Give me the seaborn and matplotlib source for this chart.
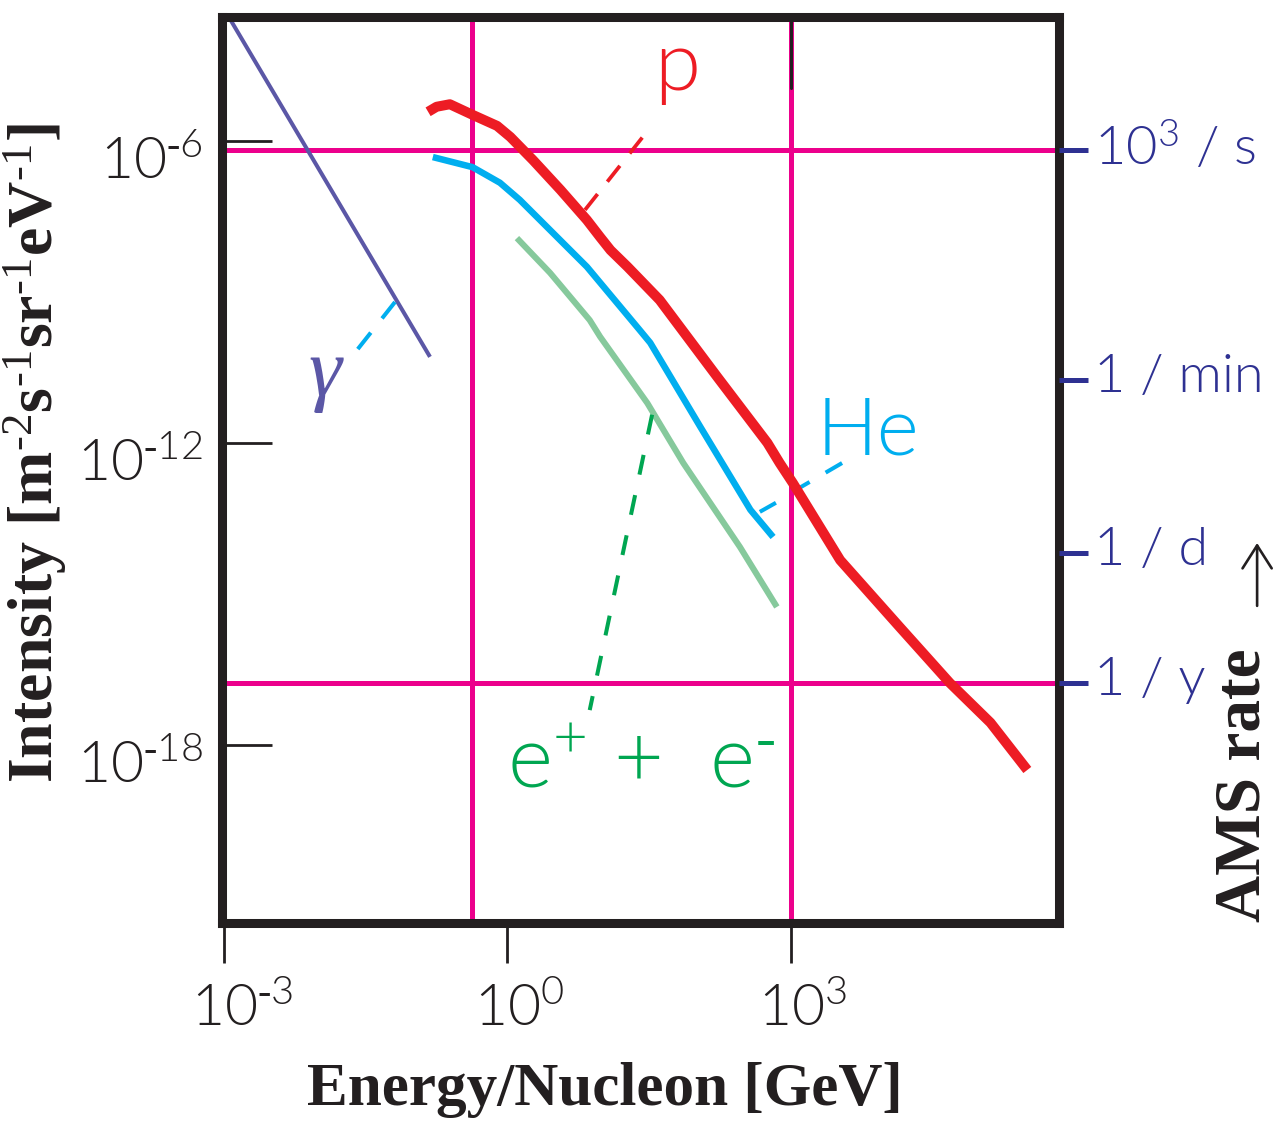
import numpy as np
import pandas as pd
import matplotlib
matplotlib.use("Agg")
import matplotlib.pyplot as plt
import matplotlib.transforms as mtransforms
from matplotlib import font_manager as fm
from matplotlib.font_manager import FontProperties
from matplotlib.ticker import NullLocator
import seaborn as sns

# ---------------- data (log10 values) ----------------
gamma_logE = [-2.96, -0.82]
gamma_logI = [-3.50, -10.29]

proton_logE = [-0.84, -0.75, -0.61, -0.37, -0.11, 0.03, 0.27, 0.56, 0.84, 0.98, 1.09,
               1.27, 1.61, 2.22, 2.75, 2.88, 3.02, 3.52, 4.15, 4.68, 5.11, 5.50]
proton_logI = [-5.42, -5.32, -5.27, -5.48, -5.70, -5.92, -6.38, -6.97, -7.57, -7.91, -8.17,
               -8.50, -9.16, -10.69, -12.00, -12.40, -12.80, -14.33, -15.66, -16.77, -17.56, -18.50]

helium_logE = [-0.79, -0.37, -0.08, 0.13, 0.84, 1.40, 1.51, 2.04, 2.57, 2.81]
helium_logI = [-6.32, -6.52, -6.83, -7.17, -8.50, -9.76, -10.01, -11.68, -13.33, -13.87]

electron_logE = [0.10, 0.45, 0.87, 0.98, 1.48, 1.86, 2.46, 2.85]
electron_logI = [-7.93, -8.62, -9.56, -9.89, -11.21, -12.40, -14.07, -15.26]

# pointer lines (label -> curve)
p_ptr_logE = [0.82, 1.49]
p_ptr_logI = [-7.37, -5.78]
he_ptr_logE = [3.02, 3.54]
he_ptr_logI = [-12.97, -12.40]
he_tick_logE = [2.67, 2.84]
he_tick_logI = [-13.37, -13.19]
gamma_ptr_logE = [-1.19, -1.59]
gamma_ptr_logI = [-9.20, -10.15]
e_ptr_logE = [1.53, 0.87]
e_ptr_logI = [-11.44, -17.31]

# curve labels: text, log10 E (centre), log10 I (baseline)
label_texts = ["p", "He", "\u03b3", r"$\mathregular{e^{+}}$ +  $\mathregular{e^{\text{-}}}$"]
label_logE = [1.79, 3.815, -1.93, 1.42]
label_logI = [-4.99, -12.24, -11.05, -18.84]
label_sizes = [60, 58, 60, 62]

# axes
x_tick_exps = [-3, 0, 3]
y_tick_exps = [-6, -12, -18]
xlim_log = [-3.02, 5.836]
ylim_log = [-21.54, -3.536]
grid_logE = [-0.376, 3.0]
grid_logI = [-6.18, -16.77]
rate_logI = [-6.18, -10.75, -14.19, -16.77]
rate_labels = [r"$\mathregular{10^{3}}$ / s", "1 / min", "1 / d", "1 / y"]
rate_is_grid = [True, False, False, True]

# ---------------- style ----------------
RED = "#ED1C24"
CYAN = "#00AEEF"
GREEN_L = "#86C99C"
GREEN_D = "#00A651"
PURPLE = "#5B57A6"
NAVY = "#2E3192"
MAGENTA = "#EC008C"
BLACK = "#231F20"

sns.set_theme(style="white")
plt.rcParams["font.family"] = ["Lato", "DejaVu Sans"]
plt.rcParams["mathtext.fontset"] = "custom"
plt.rcParams["mathtext.rm"] = "Liberation Serif"
plt.rcParams["mathtext.it"] = "Liberation Serif:italic"
plt.rcParams["mathtext.bf"] = "Liberation Serif:bold"


def _wnum(w):
    if isinstance(w, (int, float)):
        return w
    return fm.weight_dict.get(w, 400)


def find_light():
    for name in ["Lato", "Open Sans", "Roboto", "Noto Sans"]:
        cands = [f for f in fm.fontManager.ttflist if f.name == name and f.style == "normal"]
        for target in (300, 200):
            for f in cands:
                if _wnum(f.weight) == target:
                    return f.fname
    return None


LIGHT = find_light()


def lfp(size):
    if LIGHT:
        return FontProperties(fname=LIGHT, size=size)
    return FontProperties(family="Lato", size=size)


def sfp(size, weight="bold", style="normal"):
    return FontProperties(family=["Liberation Serif", "DejaVu Serif"], weight=weight,
                          style=style, size=size)


def sup(e):
    s = str(e)
    if s.startswith("-"):
        s = r"\text{-}" + s[1:]
    return r"$\mathregular{10^{%s}}$" % s


fig = plt.figure(figsize=(12.74, 11.25), dpi=100, facecolor="white")
ax = fig.add_axes([0.1743, 0.1796, 0.6570, 0.8053])
ax.set_xscale("log")
ax.set_yscale("log")
ax.set_facecolor("white")


def curve(logE, logI, color, lw, dashes=None, z=3):
    df = pd.DataFrame({"E": 10.0 ** np.asarray(logE), "I": 10.0 ** np.asarray(logI)})
    sns.lineplot(data=df, x="E", y="I", sort=False, estimator=None, color=color,
                 linewidth=lw, ax=ax, legend=False, zorder=z, solid_capstyle="butt",
                 solid_joinstyle="round")
    line = ax.lines[-1]
    if dashes is not None:
        line.set_dashes(dashes)
        line.set_dash_capstyle("butt")
    return line


# magenta reference lines
for le in grid_logE:
    ax.axvline(10.0 ** le, color=MAGENTA, lw=3.6, zorder=1)
for li in grid_logI:
    ax.axhline(10.0 ** li, color=MAGENTA, lw=3.6, zorder=1)

# spectra
curve(gamma_logE, gamma_logI, PURPLE, 2.9)
curve(electron_logE, electron_logI, GREEN_L, 4.4)
curve(helium_logE, helium_logI, CYAN, 4.7)
curve(proton_logE, proton_logI, RED, 7.2, z=4)

# pointers
curve(p_ptr_logE, p_ptr_logI, RED, 2.7, dashes=(5.4, 4.2))
curve(gamma_ptr_logE, gamma_ptr_logI, CYAN, 2.9, dashes=(5.2, 4.5))
curve(he_ptr_logE, he_ptr_logI, CYAN, 2.9, dashes=(4.8, 4.6))
curve(he_tick_logE, he_tick_logI, CYAN, 2.9)
curve(e_ptr_logE, e_ptr_logI, GREEN_D, 2.9, dashes=(5.0, 5.2))

# curve labels
label_colors = [RED, CYAN, PURPLE, GREEN_D]
for i, (t, le, li, c, sz) in enumerate(zip(label_texts, label_logE, label_logI,
                                           label_colors, label_sizes)):
    fp = sfp(sz, weight="normal", style="italic") if i == 2 else lfp(sz)
    ax.text(10.0 ** le, 10.0 ** li, t, color=c, fontproperties=fp, ha="center",
            va="baseline", zorder=6)

# limits and ticks
ax.set_xlim(10.0 ** xlim_log[0], 10.0 ** xlim_log[1])
ax.set_ylim(10.0 ** ylim_log[0], 10.0 ** ylim_log[1])
ax.set_xticks([10.0 ** e for e in x_tick_exps])
ax.set_xticklabels([sup(e) for e in x_tick_exps])
ax.set_yticks([10.0 ** e for e in y_tick_exps])
ax.set_yticklabels([sup(e) for e in y_tick_exps])
ax.xaxis.set_minor_locator(NullLocator())
ax.yaxis.set_minor_locator(NullLocator())
ax.tick_params(axis="x", which="major", direction="out", length=29, width=2.0,
               color=BLACK, labelcolor=BLACK, pad=-5, bottom=True, top=False)
ax.tick_params(axis="y", which="major", direction="in", length=36, width=2.0,
               color=BLACK, labelcolor=BLACK, pad=14, left=True, right=False)
for lab in ax.get_xticklabels() + ax.get_yticklabels():
    lab.set_fontproperties(lfp(41))

# top tick at 10^3
ax.axvline(10.0 ** x_tick_exps[-1], ymin=1 - 0.078, ymax=1, color=BLACK, lw=2.2, zorder=4)

# frame
for s in ax.spines.values():
    s.set_visible(True)
    s.set_linewidth(6.5)
    s.set_color(BLACK)
    s.set_zorder(5)
    s.set_capstyle("projecting")

# axis labels
ax.set_xlabel("Energy/Nucleon [GeV]", fontproperties=sfp(44), color=BLACK)
ax.xaxis.set_label_coords(0.4576, -0.1843)
ax.xaxis.label.set_va("center")
ax.set_ylabel(r"Intensity [m$^{\text{-}2}$s$^{\text{-}1}$sr$^{\text{-}1}$eV$^{\text{-}1}$]",
              fontproperties=sfp(46), color=BLACK)
ax.yaxis.set_label_coords(-0.2234, 0.5188)
ax.yaxis.label.set_va("center")

# AMS rate axis (right)
ax2 = ax.twinx()
ax2.set_yscale("log")
ax2.set_ylim(ax.get_ylim())
ax2.set_yticks([10.0 ** v for v in rate_logI])
ax2.set_yticklabels(rate_labels)
ax2.yaxis.set_minor_locator(NullLocator())
ax2.tick_params(axis="y", which="major", direction="out", length=21, width=3.6,
                color=NAVY, labelcolor=NAVY, pad=4, right=True, left=False)
for lab in ax2.get_yticklabels():
    lab.set_fontproperties(lfp(39))
for tk, isg in zip(ax2.yaxis.get_major_ticks(), rate_is_grid):
    if isg:
        tk.tick2line.set_color(MAGENTA)
for s in ax2.spines.values():
    s.set_visible(False)
ax2.grid(False)

ax.text(1.2389, 0.001, "AMS rate", transform=ax.transAxes, rotation=90,
        rotation_mode="anchor", ha="left", va="baseline",
        fontproperties=sfp(47), color=BLACK)
ax.annotate("", xy=(1.2366, 0.4194), xytext=(1.2366, 0.350), xycoords="axes fraction",
            textcoords="axes fraction",
            arrowprops=dict(arrowstyle="->, head_length=0.55, head_width=0.35",
                            lw=1.9, color=BLACK, mutation_scale=30,
                            shrinkA=0, shrinkB=0))

# fine placement of tick labels
fig.canvas.draw()
rend = fig.canvas.get_renderer()
probe = fig.text(0, 0, r"$\mathregular{10}$", fontproperties=lfp(41))
w10 = probe.get_window_extent(rend).width
probe.remove()
shift_x = mtransforms.ScaledTranslation(-w10 / 2 / fig.dpi, -26 / fig.dpi, fig.dpi_scale_trans)
for lab in ax.get_xticklabels():
    lab.set_ha("left")
    lab.set_transform(lab.get_transform() + shift_x)
shift_y = mtransforms.ScaledTranslation(0, -16 / fig.dpi, fig.dpi_scale_trans)
for lab in ax.get_yticklabels():
    lab.set_transform(lab.get_transform() + shift_y)
shift_r = mtransforms.ScaledTranslation(0, 7 / fig.dpi, fig.dpi_scale_trans)
for lab in ax2.get_yticklabels():
    lab.set_transform(lab.get_transform() + shift_r)

fig.savefig("out.png", dpi=100, facecolor="white")
